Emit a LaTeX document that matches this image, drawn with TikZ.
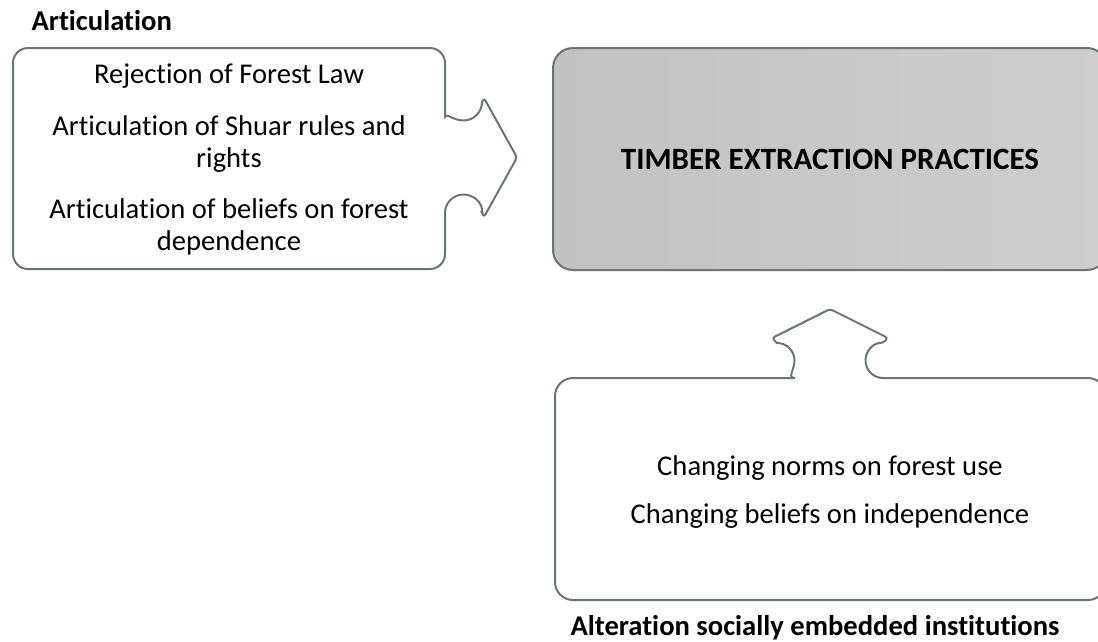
\documentclass[tikz,border=0pt]{standalone}
\usepackage{fontspec}
\setmainfont{Carlito}[Ligatures=NoCommon]
\usepackage{xcolor}
\definecolor{edgegray}{RGB}{105,120,111}
\definecolor{fillgray}{RGB}{194,194,194}
\definecolor{fillgraylight}{RGB}{206,206,206}

\begin{document}
\begin{tikzpicture}[x=1pt, y=-1pt,
    piece/.style={draw=edgegray, line width=2pt, fill=white},
    body/.style={font=\fontsize{28.6}{32}\selectfont, align=center, anchor=base},
    heading/.style={font=\fontsize{28.6}{32}\selectfont\bfseries, anchor=base}]
  \useasboundingbox (0,0) rectangle (1098,641);
  \clip (0,0) rectangle (1098,641);

  % left piece with arrow to the right
  \draw[piece] (13,158) [rounded corners=15pt] -- (13,48) -- (445,48) -- (445,102)
    [sharp corners] arc[start angle=180, end angle=0, radius=18.5]
    [rounded corners=3pt] -- (484,98) -- (517,157.5) -- (484,217) -- (482,213)
    [sharp corners] arc[start angle=0, end angle=-180, radius=18.5]
    [rounded corners=15pt] -- (445,269) -- (13,269) -- cycle;

  % bottom piece with arrow upwards
  \draw[piece] (555,489) [rounded corners=18pt] -- (555,378) -- (777,378)
    [sharp corners] arc[start angle=90, end angle=-90, radius=17.5]
    [rounded corners=3pt] -- (772,338) -- (830,309) -- (888,338) -- (883,343)
    [sharp corners] arc[start angle=270, end angle=90, radius=17.5]
    [rounded corners=18pt] -- (1106,378) -- (1106,600) -- (555,600) -- cycle;

  \node[draw=edgegray, line width=2pt, rounded corners=20pt,
        left color=fillgray, right color=fillgraylight,
        minimum width=554pt, minimum height=222pt,
        font=\fontsize{31}{34}\selectfont\bfseries] (practices) at (830,159) {TIMBER EXTRACTION PRACTICES};

  \node[heading, anchor=base west] (articulation) at (28,30) {Articulation};
  \node[body] (rejection) at (229,83) {Rejection of Forest Law};
  \node[body] (shuar) at (229,167) {Articulation of Shuar rules and\\rights};
  \node[body] (beliefs) at (229,250) {Articulation of beliefs on forest\\dependence};

  \node[body] (norms) at (830,475) {Changing norms on forest use};
  \node[body] (independence) at (830,523) {Changing beliefs on independence};
  \node[heading] (alteration) at (815,635) {Alteration socially embedded institutions};
\end{tikzpicture}
\end{document}
